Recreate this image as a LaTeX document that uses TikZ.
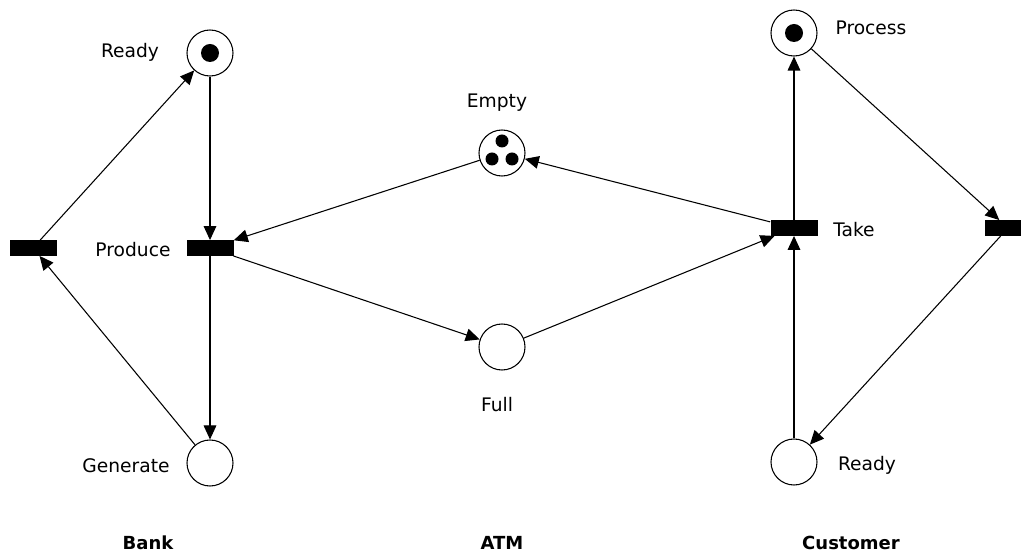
\documentclass[tikz,border=0pt]{standalone}
\usepackage{fontspec}
\setmainfont{DejaVu Sans}
\usetikzlibrary{arrows.meta}
\begin{document}
\begin{tikzpicture}[x=0.75pt,y=-0.75pt,
  place/.style={circle,draw,line width=0.8pt,minimum size=34.5pt,inner sep=0pt},
  trans/.style={rectangle,fill=black,minimum width=35.25pt,minimum height=11.5pt,inner sep=0pt},
  bigtoken/.style={circle,fill=black,inner sep=0pt,minimum size=13.5pt},
  token/.style={circle,fill=black,inner sep=0pt,minimum size=9.75pt},
  lbl/.style={font=\fontsize{14}{16}\selectfont,inner sep=0pt},
  group/.style={font=\fontsize{13.5}{16}\selectfont\bfseries,inner sep=0pt},
  arc/.style={line width=0.8pt,-{Triangle[length=10.5pt,width=9.5pt]}}
]
\clip (0,0) rectangle (1021,555);
\fill[white] (0,0) rectangle (1021,555);

% Bank
\node[place] (bready) at (210,53) {};
\node[bigtoken] (btok) at (210,53) {};
\node[trans] (recharge) at (33,248) {};
\node[trans] (produce) at (210,248) {};
\node[place] (generate) at (210,463) {};

% ATM
\node[place] (empty) at (502,153) {};
\node[token] (e1) at (502,141) {};
\node[token] (e2) at (492,159) {};
\node[token] (e3) at (512,159) {};
\node[place] (full) at (502,347) {};

% Customer
\node[place] (process) at (794,33) {};
\node[bigtoken] (ptok) at (794,33) {};
\node[trans] (take) at (794,228) {};
\node[trans] (consume) at (1008,228) {};
\node[place] (cready) at (794,462) {};

% labels
\node[lbl] (l1) at (130,52) {Ready};
\node[lbl] (l2) at (133,250) {Produce};
\node[lbl] (l3) at (126,466) {Generate};
\node[lbl] (l4) at (497,103) {Empty};
\node[lbl] (l5) at (497,405) {Full};
\node[lbl] (l6) at (854,230) {Take};
\node[lbl] (l7) at (871,28) {Process};
\node[lbl] (l8) at (867,465) {Ready};
\node[group] (g1) at (148,543) {Bank};
\node[group] (g2) at (502,543) {ATM};
\node[group] (g3) at (851,543) {Customer};

% arcs
\draw[arc] (bready) -- (produce);
\draw[arc] (produce) -- (generate);
\draw[arc] (generate) -- (recharge);
\draw[arc] (recharge) -- (bready);
\draw[arc] (empty) -- (produce);
\draw[arc] (produce) -- (full);
\draw[arc] (full) -- (take);
\draw[arc] (take) -- (empty);
\draw[arc] (take) -- (process);
\draw[arc] (cready) -- (take);
\draw[arc] (process) -- (consume);
\draw[arc] (consume) -- (cready);
\end{tikzpicture}
\end{document}
